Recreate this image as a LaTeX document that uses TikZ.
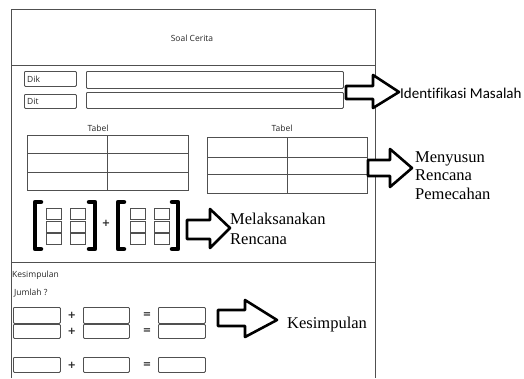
\documentclass[tikz,border=0pt]{standalone}
\usepackage{fontspec}
\usetikzlibrary{calc}
\setmainfont{Liberation Serif}
\newfontfamily\sketchfont{Open Sans}
\newfontfamily\signfont{DejaVu Sans}
\newfontfamily\calfont[Ligatures=NoCommon]{Carlito}
\definecolor{pen}{HTML}{505050}
\begin{document}
\begin{tikzpicture}[x=1pt,y=-1pt,
  frame/.style={draw=pen,line width=0.9pt},
  field/.style={draw=pen,line width=0.8pt,rounded corners=1pt,inner sep=0pt,anchor=north west},
  cell/.style={draw=pen,line width=0.6pt,inner sep=0pt,anchor=north west},
  sketch/.style={font=\sketchfont\fontsize{8.5}{10}\selectfont,text=black!85,inner sep=0pt},
  sign/.style={font=\signfont\bfseries\fontsize{10}{10}\selectfont,inner sep=0pt,text=black!85},
  bracket/.style={draw=black,line width=4.5pt,line cap=round,line join=round},
  blockarrow/.style={draw=black,line width=2.6pt,line join=round,fill=white},
  note/.style={font=\fontsize{16.5}{19}\selectfont,inner sep=0pt,anchor=west},
]
\useasboundingbox (0,0) rectangle (524,378);
\fill[white] (0,0) rectangle (524,378);

% outer frame and section rules
\draw[frame] (11,378) -- (11,9) -- (375,9) -- (375,378);
\draw[frame] (11,65) -- (375,65);
\draw[frame] (11,262) -- (375,262);
\node[sketch] (soal) at (192,38) {Soal Cerita};

% known / asked fields
\node[field,minimum width=52pt,minimum height=15pt] (dik) at (24,71) {};
\node[sketch,anchor=west] at ([xshift=3pt]dik.west) {Dik};
\node[field,minimum width=52pt,minimum height=14pt] (dit) at (24,94) {};
\node[sketch,anchor=west] at ([xshift=3pt]dit.west) {Dit};
\node[field,minimum width=257pt,minimum height=17pt] (dikval) at (86,71) {};
\node[field,minimum width=257pt,minimum height=16pt] (ditval) at (86,92) {};

% two tables
\node[sketch] (tabA) at (98,128) {Tabel};
\draw[frame,line width=0.8pt] (27,135) rectangle (188,190);
\draw[frame,line width=0.8pt] (27,153) -- (188,153) (27,172) -- (188,172) (107,135) -- (107,190);
\node[sketch] (tabB) at (282,128) {Tabel};
\draw[frame,line width=0.8pt] (207,137) rectangle (367,193);
\draw[frame,line width=0.8pt] (207,157) -- (367,157) (207,174) -- (367,174) (287,137) -- (287,193);

% matrix sum
\draw[bracket] (41,202) -- (35,202) -- (35,249) -- (41,249);
\draw[bracket] (89,202) -- (95,202) -- (95,249) -- (89,249);
\draw[bracket] (124,202) -- (118,202) -- (118,249) -- (124,249);
\draw[bracket] (172,202) -- (178,202) -- (178,249) -- (172,249);
\foreach \cx/\nm in {46/a,70/b,130/c,154/d}{
  \node[cell,minimum width=15pt,minimum height=11pt] (\nm1) at (\cx,208) {};
  \node[cell,minimum width=15pt,minimum height=11pt] (\nm2) at (\cx,220.5) {};
  \node[cell,minimum width=15pt,minimum height=11pt] (\nm3) at (\cx,233) {};
}
\node[sign] (plusM) at (106,223) {+};

% conclusion part
\node[sketch,anchor=west] (kes) at (12,275) {Kesimpulan};
\node[sketch,anchor=west] (jml) at (14,293) {Jumlah ?};
\foreach \ry/\rh/\nm in {307/16/r1,324/14/r2,357/15/r3}{
  \node[field,minimum width=47pt,minimum height=\rh pt] (\nm a) at (13,\ry) {};
  \node[field,minimum width=46pt,minimum height=\rh pt] (\nm b) at (83,\ry) {};
  \node[field,minimum width=47pt,minimum height=\rh pt] (\nm c) at (158,\ry) {};
  \node[sign] at ($(\nm a.east)!0.5!(\nm b.west)$) {+};
  \node[sign] at ([xshift=-11pt]\nm c.west) {=};
}

% step arrows and their labels
\draw[blockarrow] (346,86) -- (373,86) -- (373,75) -- (399,92) -- (373,108) -- (373,99) -- (346,99) -- cycle;
\node[font=\calfont\fontsize{15}{18}\selectfont,inner sep=0pt,anchor=west] (idm) at (400,93) {Identifikasi Masalah};

\draw[blockarrow] (368,160) -- (390,160) -- (390,149) -- (412,168) -- (390,187) -- (390,176) -- (368,176) -- cycle;
\node[note,anchor=north west,align=left,font=\fontsize{16.5}{18.5}\selectfont] (mrp) at (415,151) {Menyusun\\Rencana\\Pemecahan};

\draw[blockarrow] (187,220) -- (210,220) -- (210,209) -- (230,228) -- (210,248) -- (210,239) -- (187,239) -- cycle;
\node[note,anchor=north west,align=left,font=\fontsize{16.5}{19.5}\selectfont] (mr) at (230,213) {Melaksanakan\\Rencana};

\draw[blockarrow] (218,310) -- (245,310) -- (245,300) -- (277,320) -- (245,337) -- (245,326) -- (218,326) -- cycle;
\node[note] (ksp) at (287,325) {Kesimpulan};
\end{tikzpicture}
\end{document}
